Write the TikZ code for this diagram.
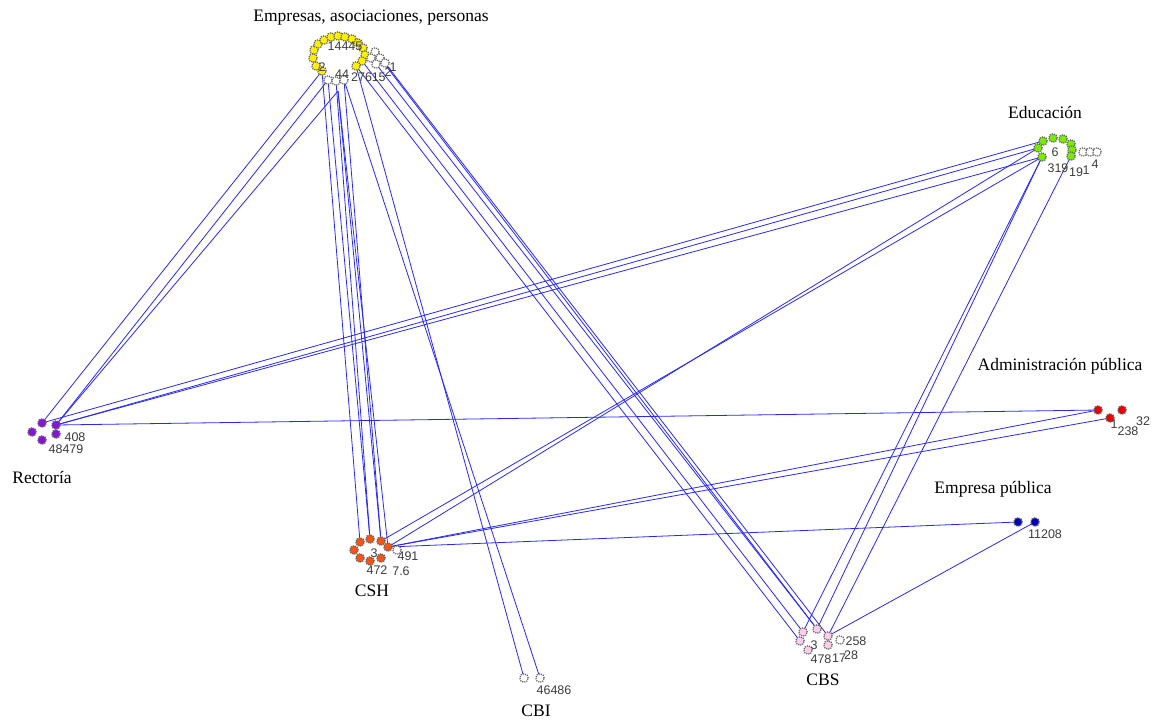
\documentclass[tikz,border=0pt]{standalone}
\usepackage{fontspec}
\setmainfont{Liberation Serif}
\newfontfamily\numfont{Liberation Sans}
\pgfdeclarelayer{paper}
\pgfdeclarelayer{ties}
\pgfsetlayers{paper,ties,main}
\definecolor{linkblue}{RGB}{40,40,250}
\definecolor{labgray}{RGB}{60,60,60}
\definecolor{ringgray}{RGB}{100,100,100}
\definecolor{cYel}{RGB}{255,240,0}
\definecolor{cGrn}{RGB}{120,235,0}
\definecolor{cPur}{RGB}{135,20,215}
\definecolor{cRed}{RGB}{235,0,0}
\definecolor{cBlu}{RGB}{0,0,190}
\definecolor{cOrg}{RGB}{245,85,20}
\definecolor{cPnk}{RGB}{255,205,235}
\begin{document}
\begin{tikzpicture}[x=1pt,y=-1pt,
  nd/.style={circle,inner sep=0pt,minimum size=8.5pt,draw=ringgray,densely dotted,line width=1.2pt},
  yel/.style={nd,fill=cYel}, grn/.style={nd,fill=cGrn}, pur/.style={nd,fill=cPur},
  red/.style={nd,fill=cRed}, blu/.style={nd,fill=cBlu}, org/.style={nd,fill=cOrg},
  pnk/.style={nd,fill=cPnk}, wht/.style={nd,fill=white},
  ln/.style={draw=linkblue,line width=0.8pt},
  grp/.style={font=\fontsize{17.5}{19}\selectfont,inner sep=0pt,text=black},
  num/.style={font=\numfont\fontsize{12.5}{13}\selectfont,inner sep=0pt,text=labgray}]
\useasboundingbox (0,0) rectangle (1154,721);
\begin{pgfonlayer}{paper}
  \fill[white] (0,0) rectangle (1154,721);
\end{pgfonlayer}

% --- Empresas, asociaciones, personas ---
\foreach \n/\x/\y in {1/316/66,2/313/58,3/314/50,4/318/44,5/324/40,6/331/37,7/338/36,8/345/37,
  9/352/39,10/358/43,11/363/48,12/365/55,13/362/61,14/356/66,15/322/71}
  \node[yel] (e\n) at (\x,\y) {};
\foreach \n/\x/\y in {1/375/52,2/371/58,3/380/58,4/376/64,5/385/63,6/328/80,7/336/81,8/344/80}
  \node[wht] (ew\n) at (\x,\y) {};
\coordinate (eh) at (338,91);
\node[num] at (345,46) {14445};
\node[num] at (322,67) {2};
\node[num] at (342,74) {44};
\node[num] at (365,77) {2761};
\node[num] at (382,77) {5};
\node[num] at (388,72) {2};
\node[num] at (393,67) {1};
\node[grp] (gE) at (371,18) {Empresas, asociaciones, personas};

% --- Educación ---
\foreach \n/\x/\y in {1/1038/148,2/1043/141,3/1053/138,4/1063/139,5/1071/144,6/1072/150,7/1071/156,8/1042/157}
  \node[grn] (d\n) at (\x,\y) {};
\foreach \n/\x/\y in {1/1083/152,2/1090/152,3/1097/152}
  \node[wht] (dw\n) at (\x,\y) {};
\node[num] at (1055,152) {6};
\node[num] at (1058,168) {319};
\node[num] at (1076,172) {19};
\node[num] at (1086,170) {1};
\node[num] at (1095,164) {4};
\node[grp] (gD) at (1045,112) {Educación};

% --- Rectoría ---
\foreach \n/\x/\y in {1/42/423,2/32/432,3/42/440,4/56/425,5/56/434}
  \node[pur] (r\n) at (\x,\y) {};
\node[num] at (75,437) {408};
\node[num] at (66,449) {48479};
\node[grp] (gR) at (42,477) {Rectoría};

% --- Administración pública ---
\foreach \n/\x/\y in {1/1098/410,2/1122/410,3/1110/418}
  \node[red] (a\n) at (\x,\y) {};
\node[num] at (1114,424) {1};
\node[num] at (1143,421) {32};
\node[num] at (1128,431) {238};
\node[grp] (gA) at (1060,366) {Administración pública};

% --- Empresa pública ---
\node[blu] (p1) at (1018,522) {};
\node[blu] (p2) at (1035,522) {};
\node[num] at (1045,534) {11208};
\node[grp] (gP) at (993,489) {Empresa pública};

% --- CSH ---
\foreach \n/\x/\y in {1/354/550,2/360/542,3/370/539,4/381/541,5/388/547,6/360/558,7/370/561,8/381/558}
  \node[org] (c\n) at (\x,\y) {};
\node[wht] (cw1) at (397,550) {};
\node[num] at (374,553) {3};
\node[num] at (408,556) {491};
\node[num] at (377,570) {472};
\node[num] at (401,571) {7.6};
\node[grp] (gC) at (372,591) {CSH};

% --- CBS ---
\foreach \n/\x/\y in {1/803/632,2/817/629,3/828/636,4/828/645,5/800/641,6/808/650}
  \node[pnk] (b\n) at (\x,\y) {};
\node[wht] (bw1) at (840,640) {};
\node[num] at (814,645) {3};
\node[num] at (856,641) {258};
\node[num] at (821,659) {478};
\node[num] at (839,658) {17};
\node[num] at (851,655) {28};
\node[grp] (gB) at (823,680) {CBS};

% --- CBI ---
\node[wht] (i1) at (524,678) {};
\node[wht] (i2) at (540,678) {};
\node[num] at (554,690) {46486};
\node[grp] (gI) at (536,711) {CBI};

% --- ties ---
\begin{pgfonlayer}{ties}
  % Empresas -- Rectoría
  \draw[ln] (e15.center) -- (r1.center);
  \draw[ln] (eh) -- (r4.center);
  \draw[ln] (ew6.center) -- (r4.center);
  % Empresas -- CSH
  \draw[ln] (e15.center) -- (c2.center);
  \draw[ln] (ew6.center) -- (c3.center);
  \draw[ln] (ew7.center) -- (c3.center);
  \draw[ln] (ew8.center) -- (c4.center);
  \draw[ln] (eh) -- (c4.center);
  \draw[ln] (eh) -- (c5.center);
  % Empresas -- CBI
  \draw[ln] (e14.center) -- (i1.center);
  \draw[ln] (ew8.center) -- (i2.center);
  % Empresas -- CBS
  \draw[ln] (e13.center) -- (b1.center);
  \draw[ln] (e14.center) -- (b5.center);
  \draw[ln] (ew3.center) -- (b2.center);
  \draw[ln] (ew4.center) -- (b2.center);
  \draw[ln] (ew5.center) -- (b3.center);
  % Educación -- Rectoría
  \draw[ln] (d1.center) -- (r4.center);
  \draw[ln] (d8.center) -- (r4.center);
  \draw[ln] (d2.center) -- (r1.center);
  % Educación -- CSH
  \draw[ln] (d8.center) -- (c4.center);
  \draw[ln] (d1.center) -- (c5.center);
  % Educación -- CBS
  \draw[ln] (d8.center) -- (b1.center);
  \draw[ln] (d8.center) -- (b2.center);
  \draw[ln] (d7.center) -- (b3.center);
  % Rectoría -- Administración pública
  \draw[ln] (r4.center) -- (a1.center);
  % CSH -- Administración pública
  \draw[ln] (c5.center) -- (a1.center);
  \draw[ln] (c5.center) -- (a3.center);
  % CSH / CBS -- Empresa pública
  \draw[ln] (c5.center) -- (p1.center);
  \draw[ln] (b3.center) -- (p2.center);
\end{pgfonlayer}
\end{tikzpicture}
\end{document}
